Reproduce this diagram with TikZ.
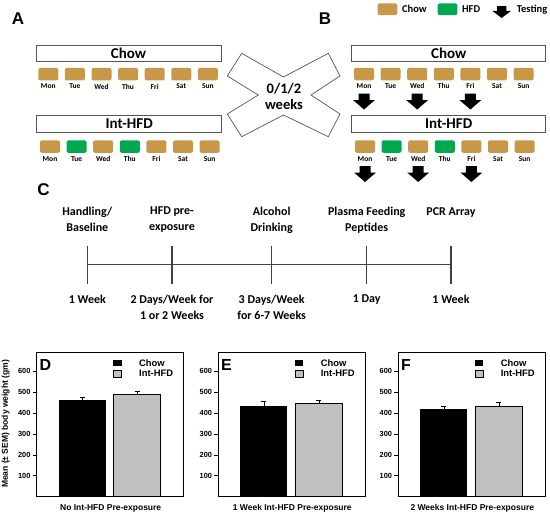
\documentclass[tikz,border=0pt]{standalone}
\usepackage{fontspec}
\setmainfont{Carlito}
\newfontfamily\arialfont{Liberation Sans}
\usetikzlibrary{positioning}
\definecolor{chow}{RGB}{200,152,72}
\definecolor{hfd}{RGB}{0,168,80}
\definecolor{barg}{RGB}{192,192,192}
\definecolor{linegray}{RGB}{85,85,85}
\tikzset{
  panel/.style={inner sep=0pt, font=\arialfont\bfseries\fontsize{17}{17}\selectfont},
  dietbox/.style={draw=linegray, line width=0.9pt, fill=white, minimum height=16.7pt, inner sep=0pt, font=\bfseries\fontsize{15}{15}\selectfont},
  swatch/.style={rounded corners=2pt, minimum width=20pt, minimum height=12.5pt, inner sep=0pt},
  dayname/.style={inner sep=0pt, font=\bfseries\fontsize{7.5}{7.5}\selectfont},
  legtext/.style={anchor=west, inner sep=0pt, font=\bfseries\fontsize{10.5}{10.5}\selectfont},
  stage/.style={anchor=north, align=center, inner sep=0pt, font=\bfseries\fontsize{12}{15.6}\selectfont},
  tline/.style={draw=black!75, line width=1.1pt},
  testarrow/.pic={\fill (-5.5,0) -- (5.5,0) -- (5.5,6.5) -- (11,6.5) -- (0,16) -- (-11,6.5) -- (-5.5,6.5) -- cycle;},
  ticklab/.style={anchor=east, inner sep=0pt, font=\arialfont\bfseries\fontsize{7.4}{7.4}\selectfont},
  chartleg/.style={anchor=west, inner sep=0pt, font=\arialfont\bfseries\fontsize{9.4}{9.4}\selectfont},
  axislab/.style={inner sep=0pt, font=\arialfont\bfseries\fontsize{8.5}{8.5}\selectfont},
  chartpanel/.style={anchor=west, inner sep=0pt, font=\arialfont\bfseries\fontsize{16}{16}\selectfont}
}
\begin{document}
\begin{tikzpicture}[x=1pt,y=-1pt]
	\useasboundingbox (0,0) rectangle (550,517);
	% panel letters
	\node[panel] (pa) at (18,19) {A};
	\node[panel] (pb) at (325,19) {B};
	\node[panel] (pc) at (43.5,190) {C};
	% legend of B
	\node[swatch, fill=chow, minimum width=19.6pt, minimum height=11.7pt] (lchow) at (387.5,9.2) {};
	\node[legtext, right=4.4pt of lchow] (tchow) {Chow};
	\node[swatch, fill=hfd, minimum width=19.6pt, minimum height=11.7pt] (lhfd) at (447.5,9.2) {};
	\node[legtext, right=4.4pt of lhfd] (thfd) {HFD};
	\pic[xscale=0.85, yscale=0.75] at (501.7,6) {testarrow};
	\node[legtext] (ttest) at (516.7,9.2) {Testing};
	% the X between A and B
	\draw[draw=linegray, fill=white, line width=0.7pt] (241.7,53.3) -- (283.5,77) -- (328.3,53.3) -- (340,76) -- (311,95)
		-- (340,114) -- (328.3,136.7) -- (283.5,115) -- (241.7,136.7) -- (227.3,114) -- (258.3,95) -- (227.3,76) -- cycle;
	\node[align=center, inner sep=0pt, font=\bfseries\fontsize{14.5}{15.7}\selectfont] (wk) at (284,96.2) {0/1/2\\weeks};
	% diet headers
	\node[dietbox, minimum width=185pt] (achow) at (128.5,53.4) {Chow};
	\node[dietbox, minimum width=185pt] (aint) at (129.2,123.7) {Int-HFD};
	\node[dietbox, minimum width=194pt] (bchow) at (448.7,53.4) {Chow};
	\node[dietbox, minimum width=194pt] (bint) at (448.7,123.7) {Int-HFD};
	% week rows
	\foreach \rx/\ry/\hd [count=\r] in {48.3/74.2/chow, 50/146.6/hfd, 364/74/chow, 365/146.5/hfd}
		\foreach \dname/\dcol [count=\n from 0] in {Mon/chow, Tue/\hd, Wed/chow, Thu/\hd, Fri/chow, Sat/chow, Sun/chow}{
			\node[swatch, fill=\dcol] (sq\r\n) at ({\rx+26.6*\n},\ry) {};
			\node[dayname, below=3pt of sq\r\n] (dn\r\n) {\dname};
		}
	\foreach \r in {3,4}
		\foreach \n in {0,2,4} \pic at ([yshift=-19.5pt]sq\r\n.center) {testarrow};
	% timeline
	\foreach \x [count=\n] in {87.3,172,271.7,366.7,451} \coordinate (t\n) at (\x,264.3);
	\draw[tline] (t1) -- (t5);
	\foreach \n in {1,...,5} \draw[tline] ([yshift=18.6pt]t\n) -- ([yshift=-19.7pt]t\n);
	\foreach \n/\txt in {1/{Handling/\\Baseline}, 2/{HFD pre-\\exposure}, 3/{Alcohol\\Drinking}, 4/{Plasma Feeding\\Peptides}, 5/{PCR Array}}
		\node[stage] (top\n) at ([yshift=57.3pt]t\n) {\txt};
	\foreach \n/\txt in {1/{1 Week}, 2/{2 Days/Week for\\1 or 2 Weeks}, 3/{3 Days/Week\\for 6-7 Weeks}, 4/{1 Day}, 5/{1 Week}}
		\node[stage] (bot\n) at ([yshift=-30.7pt]t\n) {\txt};
	% bar charts
	\node[axislab, rotate=90] (ylab) at (5.7,424) {Mean (± SEM) body weight (gm)};
	\foreach \px/\pl/\va/\ea/\vb/\eb/\cap in {36.7/D/463/473/487/505/{No Int-HFD Pre-exposure},
			218.3/E/432/455/445/460/{1 Week Int-HFD Pre-exposure}, 398.3/F/417/433/433/450/{2 Weeks Int-HFD Pre-exposure}}{
		\begin{scope}[shift={(\px,496.7)}, yscale=-0.2093]
			\fill (22,0) rectangle (69,\va);
			\draw[fill=barg, line width=0.6pt] (77,0) rectangle (124,\vb);
			\draw[line width=0.6pt] (45.5,\va) -- (45.5,\ea) (43,\ea) -- (48,\ea);
			\draw[line width=0.6pt] (100.5,\vb) -- (100.5,\eb) (98,\eb) -- (103,\eb);
			\draw[line width=0.9pt] (0,0) rectangle (146.7,690);
			\foreach \v in {100,200,...,600}
				\draw[line width=0.6pt] (0,\v) -- (-4,\v) node[ticklab, left=2pt] {\v};
			\fill (76.6,653) rectangle (85,626);
			\draw[fill=barg, line width=0.5pt] (76.6,602) rectangle (85,573);
			\node[chartleg] at (102.3,637) {Chow};
			\node[chartleg] at (102.3,588) {Int-HFD};
			\node[chartpanel] at (2.6,627) {\pl};
			\node[axislab] at (74,-55.4) {\cap};
		\end{scope}
	}
\end{tikzpicture}
\end{document}
